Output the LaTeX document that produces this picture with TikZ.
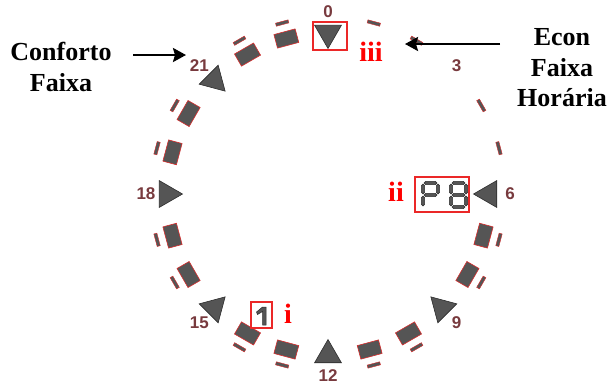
\documentclass[tikz,border=0pt]{standalone}
\usepackage{fontspec}
\setmainfont{Liberation Serif}
\newfontfamily\lsans{Liberation Sans}
\usetikzlibrary{shapes.geometric,arrows.meta}
\definecolor{segfill}{RGB}{85,85,85}
\definecolor{segedge}{RGB}{45,45,45}
\definecolor{baredge}{RGB}{215,45,45}
\definecolor{hourcol}{RGB}{120,58,62}
\definecolor{boxred}{RGB}{235,40,40}
\newcommand\mysegH[3]{\filldraw[segst] (#1,#3) -- ({#1+1.7},{#3-1.7}) -- ({#2-1.7},{#3-1.7}) -- (#2,#3) -- ({#2-1.7},{#3+1.7}) -- ({#1+1.7},{#3+1.7}) -- cycle;}
\newcommand\mysegV[3]{\filldraw[segst] (#1,#2) -- ({#1+1.7},{#2+1.7}) -- ({#1+1.7},{#3-1.7}) -- (#1,#3) -- ({#1-1.7},{#3-1.7}) -- ({#1-1.7},{#2+1.7}) -- cycle;}
\begin{document}
\begin{tikzpicture}[x=1bp,y=-1bp,
  segst/.style={fill=segfill,draw=segedge,line width=0.5bp},
  tri/.style={regular polygon,regular polygon sides=3,minimum size=31bp,inner sep=0pt,fill=segfill,draw=segedge,line width=0.6bp},
  barbox/.style={rectangle,minimum width=22bp,minimum height=14bp,inner sep=0pt,fill=segfill,draw=baredge,line width=0.6bp},
  tickmark/.style={rectangle,minimum width=13bp,minimum height=3.2bp,inner sep=0pt,fill=segfill,draw=baredge,line width=0.4bp},
  hourlbl/.style={inner sep=0pt,text=hourcol,font=\lsans\bfseries\fontsize{17bp}{17bp}\selectfont},
  redbox/.style={rectangle,draw=boxred,line width=1.3bp,inner sep=0pt},
  redtxt/.style={inner sep=0pt,text=red,font=\bfseries\fontsize{28bp}{28bp}\selectfont},
  bigtxt/.style={inner sep=0pt,align=center,font=\bfseries\fontsize{26bp}{30.5bp}\selectfont},
  arr/.style={line width=2.4bp,-{Stealth[length=13bp,width=14bp,inset=2bp]}}]
\useasboundingbox (0,0) rectangle (609,385);
\coordinate (O) at (328,194);
% ticks
\foreach \h in {1,2,4,5,7,8,10,11,13,14,16,17,19,20,22,23}{
  \node[tickmark,rotate={-15*\h}] (k\h) at ({328+177*sin(15*\h)},{194-177*cos(15*\h)}) {};
}
% bars
\foreach \h in {7,8,10,11,13,14,16,17,19,20,22,23}{
  \node[barbox,rotate={-15*\h}] (b\h) at ({328+161*sin(15*\h)},{194-161*cos(15*\h)}) {};
}
% triangles
\foreach \h in {0,6,9,12,15,18,21}{
  \node[tri,rotate={-15*\h-180}] (t\h) at ({328+161*sin(15*\h)},{194-161*cos(15*\h)}) {};
}
% hour labels
\foreach \h in {0,3,6,9,12,15,18,21}{
  \node[hourlbl] (l\h) at ({328+182*sin(15*\h)},{194-182*cos(15*\h)}) {\h};
}
% red boxes
\node[redbox,minimum width=34bp,minimum height=28bp] (box0) at (330,36) {};
\node[redbox,minimum width=54bp,minimum height=35bp] (boxp) at (442,194.5) {};
\node[redbox,minimum width=21bp,minimum height=26bp] (box1) at (261.5,315) {};
% red labels
\node[redtxt] (iii) at (371,52) {iii};
\node[redtxt] (ii) at (396,192) {ii};
\node[redtxt] (i) at (288,314) {i};
% P
\mysegH{424}{437}{183}
\mysegV{438}{184}{194}
\mysegH{424}{437}{195}
\mysegV{423}{184}{194}
\mysegV{423}{196}{206}
% 8
\mysegH{452}{465}{183}
\mysegV{466}{184}{194}
\mysegV{466}{196}{206}
\mysegH{452}{465}{195}
\mysegH{452}{465}{207}
\mysegV{451}{184}{194}
\mysegV{451}{196}{206}
% 1
\filldraw[segst] (262.5,307) -- (266,307) -- (266,325) -- (262.5,325) -- (262.5,311.5) -- (257.5,314.5) -- (256.5,312) -- cycle;
% side texts and arrows
\node[bigtxt] (conf) at (61,67) {Conforto\\Faixa};
\coordinate (confs) at (133,55);
\coordinate (confe) at (186,55);
\draw[arr] (confs) -- (confe);
\node[bigtxt] (econ) at (562,68) {Econ\\Faixa\\Horária};
\coordinate (econs) at (500,44);
\coordinate (econe) at (405,44);
\draw[arr] (econs) -- (econe);
\end{tikzpicture}
\end{document}
